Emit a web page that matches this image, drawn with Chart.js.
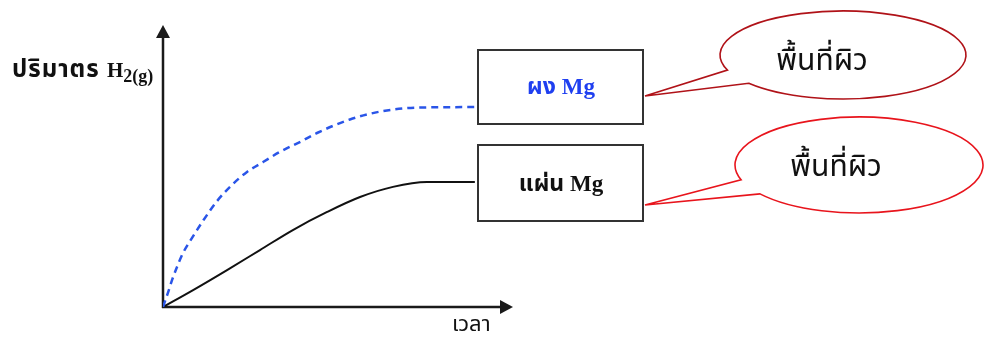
<!DOCTYPE html>
<html>
<head>
<meta charset="utf-8">
<script src="https://cdn.jsdelivr.net/npm/chart.js@4"></script>
<style>
  body { margin: 0; background: #fff; }
  canvas { display: block; }
</style>
</head>
<body>
<canvas id="rateChart" width="984" height="341"></canvas>
<script>
// curve (time vs volume of H2, arbitrary units 0-100)
var powderX = [0, 1.4, 2.6, 4.0, 5.7, 8.3, 11.4, 15.4, 19.7, 24.0, 28.6, 33.4, 39.1, 44.0, 53.4, 62.5, 72.6, 89.1];
var powderY = [0, 5.0, 9.6, 14.2, 19.1, 24.5, 30.5, 37.5, 43.3, 47.9, 51.4, 55.0, 58.5, 61.7, 66.5, 69.4, 70.7, 70.9];
var sheetX = [0, 8.6, 18.3, 27.7, 37.1, 46.9, 56.3, 65.7, 75.4, 89.1];
var sheetY = [0, 6.0, 13.1, 20.2, 27.3, 33.7, 39.0, 42.6, 44.3, 44.3];

var seriesNames = ['ผง Mg', 'แผ่น Mg'];
var calloutText = 'พื้นที่ผิว';
var yTitle = 'ปริมาตร ';
var yTitleH = 'H';
var yTitleSub = '2(g)';
var xTitle = 'เวลา';

var thaiFont = '"Noto Sans Thai", "Noto Serif Thai", "Liberation Serif", serif';

function toPoints(xs, ys) {
    var pts = [];
    for (let i = 0; i < xs.length; i++) {
        pts.push({ x: xs[i], y: ys[i] });
    }
    return pts;
}

function callout(ctx, cx, cy, rx, ry, a1, a2, tipX, tipY, color) {
    ctx.save();
    ctx.beginPath();
    ctx.ellipse(cx, cy, rx, ry, 0, a1 * Math.PI / 180, a2 * Math.PI / 180, false);
    ctx.lineTo(tipX, tipY);
    ctx.closePath();
    ctx.fillStyle = '#fff';
    ctx.fill();
    ctx.strokeStyle = color;
    ctx.lineWidth = 1.6;
    ctx.stroke();
    ctx.restore();
}

var diagramPlugin = {
    id: 'diagram',
    beforeDatasetsDraw: function (chart) {
        var ctx = chart.ctx;
        var a = chart.chartArea;
        ctx.save();
        ctx.strokeStyle = '#1a1a1a';
        ctx.fillStyle = '#1a1a1a';
        ctx.lineWidth = 2.5;
        // y axis
        ctx.beginPath();
        ctx.moveTo(a.left, a.bottom + 1);
        ctx.lineTo(a.left, a.top + 10);
        ctx.stroke();
        ctx.beginPath();
        ctx.moveTo(a.left, a.top);
        ctx.lineTo(a.left - 7, a.top + 13);
        ctx.lineTo(a.left + 7, a.top + 13);
        ctx.closePath();
        ctx.fill();
        // x axis
        ctx.beginPath();
        ctx.moveTo(a.left - 1, a.bottom);
        ctx.lineTo(a.right - 10, a.bottom);
        ctx.stroke();
        ctx.beginPath();
        ctx.moveTo(a.right, a.bottom);
        ctx.lineTo(a.right - 13, a.bottom - 7);
        ctx.lineTo(a.right - 13, a.bottom + 7);
        ctx.closePath();
        ctx.fill();
        ctx.restore();
    },
    afterDraw: function (chart) {
        var ctx = chart.ctx;
        ctx.save();

        // axis titles
        ctx.fillStyle = '#111';
        ctx.textBaseline = 'alphabetic';
        ctx.textAlign = 'left';
        ctx.font = 'bold 24px ' + thaiFont;
        ctx.letterSpacing = '1px';
        ctx.fillText(yTitle, 12, 77);
        var w = ctx.measureText(yTitle).width;
        ctx.letterSpacing = '0px';
        ctx.font = 'bold 21px "Liberation Serif", serif';
        ctx.fillText(yTitleH, 12 + w, 77);
        w += ctx.measureText(yTitleH).width;
        ctx.font = 'bold 18px "Liberation Serif", serif';
        ctx.fillText(yTitleSub, 12 + w, 82);
        ctx.font = '22px ' + thaiFont;
        ctx.fillText(xTitle, 452, 331);

        // boxes
        ctx.strokeStyle = '#333';
        ctx.lineWidth = 2;
        ctx.strokeRect(478, 50, 165, 74);
        ctx.strokeRect(478, 145, 165, 76);
        ctx.textAlign = 'center';
        ctx.textBaseline = 'middle';
        ctx.font = 'bold 23px "Liberation Serif", ' + thaiFont;
        ctx.fillStyle = '#1f3ff0';
        ctx.fillText(seriesNames[0], 561, 88);
        ctx.fillStyle = '#111';
        ctx.fillText(seriesNames[1], 561, 185);

        // callouts
        callout(ctx, 843, 55, 123, 44, 160, 140, 645, 96, '#b01218');
        callout(ctx, 859, 165, 124, 48, 162, 143, 645, 205, '#e8141c');
        ctx.fillStyle = '#111';
        ctx.font = '30px ' + thaiFont;
        ctx.fillText(calloutText, 822, 64);
        ctx.fillText(calloutText, 836, 170);

        ctx.restore();
    }
};

var ctx = document.getElementById('rateChart').getContext('2d');
var myChart = new Chart(ctx, {
    type: 'line',
    data: {
        datasets: [{
            label: seriesNames[0],
            data: toPoints(powderX, powderY),
            borderColor: '#2a55e8',
            borderWidth: 2.5,
            borderDash: [7, 5],
            pointRadius: 0,
            cubicInterpolationMode: 'monotone',
            fill: false
        }, {
            label: seriesNames[1],
            data: toPoints(sheetX, sheetY),
            borderColor: '#111',
            borderWidth: 2,
            pointRadius: 0,
            cubicInterpolationMode: 'monotone',
            fill: false
        }]
    },
    options: {
        responsive: false,
        animation: false,
        devicePixelRatio: 1,
        layout: { padding: { left: 163, right: 471, top: 25, bottom: 34 } },
        plugins: { legend: { display: false }, tooltip: { enabled: false } },
        scales: {
            x: { type: 'linear', min: 0, max: 100, display: false },
            y: { min: 0, max: 100, display: false }
        }
    },
    plugins: [diagramPlugin]
});
</script>
</body>
</html>
